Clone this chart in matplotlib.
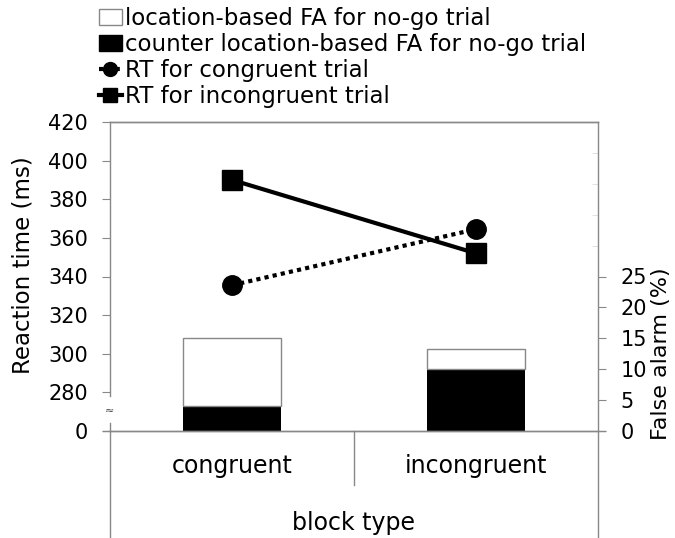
import matplotlib
matplotlib.use("Agg")
import matplotlib.pyplot as plt
from matplotlib.patches import Patch
from matplotlib.lines import Line2D

# data
blocks = ["congruent", "incongruent"]
rt_congruent = [335.5, 364.5]
rt_incongruent = [390, 352]
fa_counter = [4, 10]          # black part
fa_location = [11, 3.2]       # white part, stacked on top

plt.rcParams['font.family'] = ['DejaVu Sans']
plt.rcParams['font.size'] = 16.5

fig = plt.figure(figsize=(6.75, 5.38), dpi=100)
ax1 = fig.add_axes([110 / 675, 107 / 538, 488 / 675, 309 / 538])
ax2 = ax1.twinx()

gray = "#888888"
xs = [0.5, 1.5]

# bars on the right (false alarm) axis
ax2.bar(xs, fa_counter, width=0.4, color="black", edgecolor="black", linewidth=0)
ax2.bar(xs, fa_location, width=0.4, bottom=fa_counter, color="white",
        edgecolor=gray, linewidth=1)
ax2.set_ylim(0, 50)
ax2.set_yticks([0, 5, 10, 15, 20, 25])
ax2.set_yticks([30, 35, 40, 45], minor=True)
ax2.tick_params(axis="y", which="major", direction="out", length=6, color=gray,
                pad=10, labelsize=15)
ax2.tick_params(axis="y", which="minor", direction="in", length=4, color="#dddddd")
ax2.set_ylabel("False alarm (%)", fontsize=16)
ax2.yaxis.set_label_coords(1.108, 0.25)

# lines on the left (reaction time) axis, kept above bars
ax1.set_zorder(ax2.get_zorder() + 1)
ax1.patch.set_visible(False)
ax1.plot(xs, rt_congruent, color="black", linestyle=(0, (1, 1)), linewidth=3,
         marker="o", markersize=14)
ax1.plot(xs, rt_incongruent, color="black", linestyle="-", linewidth=3,
         marker="s", markersize=14)
ax1.set_xlim(0, 2)
ax1.set_ylim(260, 420)
ticks = list(range(260, 421, 20))
ax1.set_yticks(ticks)
ax1.set_yticklabels(["0"] + [str(t) for t in ticks[1:]])
ax1.tick_params(axis="y", direction="out", length=6, color=gray, pad=10,
                labelsize=15)
ax1.set_ylabel("Reaction time (ms)")
ax1.yaxis.set_label_coords(-0.155, 0.537)
ax1.set_xticks([])

for a in (ax1, ax2):
    for s in a.spines.values():
        s.set_color(gray)
        s.set_linewidth(1)
    a.spines["left"].set_visible(False)
    a.spines["right"].set_visible(False)

# axis lines drawn by hand: broken left axis and category boxes below
bot = -107 / 309
kw = dict(color=gray, linewidth=1, transform=ax1.transAxes, clip_on=False)
ax1.plot([0, 0], [1, 35 / 309], **kw)
ax1.plot([0, 0], [8 / 309, bot], **kw)
ax1.plot([1, 1], [1, bot], **kw)
ax1.plot([0.5, 0.5], [0, -54 / 309], **kw)
ax1.plot([-7 / 488, 0], [0, 0], **kw)
ax1.plot([1, 1 + 7 / 488], [0, 0], **kw)
ax1.text(-0.002, 20 / 309, "≈", transform=ax1.transAxes, ha="center",
         va="center", fontsize=8, color="#444444")

for x, name in zip(xs, blocks):
    ax1.text(x / 2, -35 / 309, name, transform=ax1.transAxes, ha="center",
             va="center", fontsize=17)
ax1.text(0.5, -92 / 309, "block type", transform=ax1.transAxes, ha="center",
         va="center", fontsize=17)

handles = [
    Patch(facecolor="white", edgecolor=gray, linewidth=1),
    Patch(facecolor="black", edgecolor="black"),
    Line2D([], [], color="black", linestyle=(0, (1, 1)), linewidth=3,
           marker="o", markersize=10),
    Line2D([], [], color="black", linestyle="-", linewidth=3,
           marker="s", markersize=10),
]
labels = ["location-based FA for no-go trial",
          "counter location-based FA for no-go trial",
          "RT for congruent trial",
          "RT for incongruent trial"]
fig.legend(handles, labels, loc="upper left", bbox_to_anchor=(94 / 675, 0.996),
           frameon=False, handlelength=1.0, handletextpad=0.15,
           labelspacing=0.14, borderpad=0.1, borderaxespad=0.1)

fig.savefig("out.png", dpi=100)
